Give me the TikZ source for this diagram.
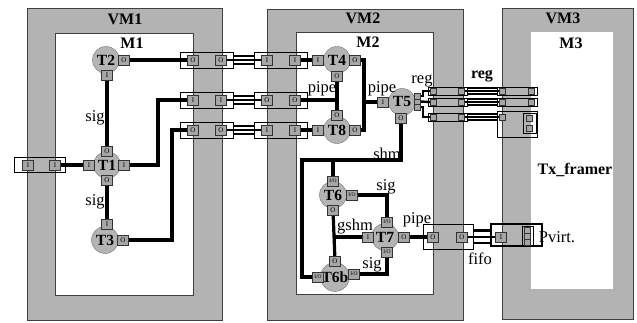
\documentclass[tikz,border=0pt]{standalone}
\usepackage{fontspec}
\setmainfont{Liberation Serif}
\pgfdeclarelayer{bg}
\pgfdeclarelayer{wires}
\pgfsetlayers{bg,wires,main}
\definecolor{vmgray}{HTML}{B3B3B3}
\definecolor{taskgray}{HTML}{B4B4B4}
\definecolor{portgray}{HTML}{A6A6A6}
\definecolor{edgegray}{HTML}{404040}
\tikzset{
 vmbox/.style={draw=edgegray, fill=vmgray, line width=0.9pt},
 mbox/.style={draw=edgegray, fill=white, line width=0.9pt},
 task/.style={circle, draw=black!55, fill=taskgray, minimum size=27pt, inner sep=0pt, font=\bfseries\fontsize{15.5}{15.5}\selectfont},
 port/.style={rectangle, draw=black!80, fill=portgray, minimum width=11pt, minimum height=10pt, inner sep=0pt, font=\fontsize{7}{7}\selectfont},
 ioport/.style={port, font=\fontsize{5.5}{5.5}\selectfont},
 sport/.style={rectangle, draw=black!80, fill=portgray, minimum size=5.5pt, inner sep=0pt},
 cbox/.style={rectangle, draw=black, line width=0.7pt, minimum width=53pt, minimum height=16pt, inner sep=0pt},
 rbox/.style={rectangle, draw=black, line width=0.7pt, minimum width=40pt, minimum height=8pt, inner sep=0pt},
 wire/.style={line width=3.2pt, black},
 chan/.style={line width=2.2pt, black},
 lbl/.style={font=\fontsize{16.5}{16.5}\selectfont, inner sep=0pt},
 ttl/.style={font=\bfseries\fontsize{16}{16}\selectfont, inner sep=0pt},
}
\begin{document}
\begin{tikzpicture}[x=1pt,y=-1pt]
\useasboundingbox (0,0) rectangle (637,323);
\begin{pgfonlayer}{bg}
\fill[white] (0,0) rectangle (637,323);
\draw[vmbox] (27,8) rectangle (222,320);
\draw[mbox] (55,33) rectangle (193,295);
\draw[vmbox] (267,9) rectangle (463,320);
\draw[mbox] (296,32) rectangle (433,294);
\draw[vmbox] (502,8) rectangle (633,319);
\draw[mbox, draw=none] (531,32) rectangle (613,289);
\end{pgfonlayer}

% titles
\node[ttl] (vm1) at (125,19) {VM1};
\node[ttl] (m1) at (132,43) {M1};
\node[ttl] (vm2) at (363,18) {VM2};
\node[ttl] (m2) at (368,42) {M2};
\node[ttl] (vm3) at (563,18) {VM3};
\node[ttl] (m3) at (571,43) {M3};
\node[ttl] (txf) at (575,170) {Tx\_framer};
\node[lbl] (pvl) at (557,237) {Pvirt.};

% connector boxes
\node[cbox, minimum width=51pt, minimum height=15pt] (lb) at (39.5,165) {};
\node[port] (lb1) at (28,165) {I};
\node[port] (lb2) at (55,165) {I};

\node[cbox] (r1a) at (206.5,60) {};
\node[cbox] (r1b) at (281,60) {};
\node[cbox] (r2a) at (206.5,100) {};
\node[cbox] (r2b) at (281,100) {};
\node[cbox] (r3a) at (206.5,130) {};
\node[cbox] (r3b) at (281,130) {};
\node[port] (p1a1) at (193,60) {O};
\node[port] (p1a2) at (221,60) {O};
\node[port] (p1b1) at (267,60) {I};
\node[port] (p1b2) at (295,60) {I};
\node[port] (p2a1) at (193,100) {I};
\node[port] (p2a2) at (221,100) {I};
\node[port] (p2b1) at (267,100) {O};
\node[port] (p2b2) at (295,100) {O};
\node[port] (p3a1) at (193,130) {O};
\node[port] (p3a2) at (221,130) {O};
\node[port] (p3b1) at (267,130) {I};
\node[port] (p3b2) at (295,130) {I};

% reg boxes
\node[rbox, minimum width=39pt] (g1a) at (447.5,91) {};
\node[rbox, minimum width=39pt] (g2a) at (447.5,102) {};
\node[rbox, minimum width=39pt] (g3a) at (447.5,117) {};
\node[rbox] (g1b) at (517,91) {};
\node[rbox] (g2b) at (517,102) {};
\node[rbox, minimum height=26pt] (g3b) at (517,124) {};
\node[sport] (q1a1) at (433,91) {};
\node[sport] (q1a2) at (461,91) {};
\node[sport] (q2a1) at (433,102) {};
\node[sport] (q2a2) at (461,102) {};
\node[sport] (q3a1) at (433,117) {};
\node[sport] (q3a2) at (461,117) {};
\node[sport] (q1b1) at (502,91) {};
\node[sport] (q1b2) at (531,91) {};
\node[sport] (q2b1) at (502,102) {};
\node[sport] (q2b2) at (531,102) {};
\node[sport] (q3b1) at (502,117) {};
\node[rectangle, draw=black, line width=0.9pt, minimum width=13pt, minimum height=20pt, inner sep=0pt] (g3in) at (529.5,123) {};
\node[sport, minimum size=6pt] (q3b2) at (529.5,118) {};
\node[sport, minimum size=6pt] (q3b3) at (529.5,128) {};

% fifo and Pvirt boxes
\node[cbox, minimum width=50pt, minimum height=25pt] (ff) at (448,236.5) {};
\node[port] (ff1) at (433,237) {O};
\node[port] (ff2) at (462,237) {O};
\node[rectangle, draw=black, line width=1.3pt, minimum width=51pt, minimum height=22pt, inner sep=0pt] (pv) at (516.5,235) {};
\node[port] (pvi) at (501,237) {I};
\node[rectangle, draw=black, line width=0.9pt, minimum width=11pt, minimum height=19pt, inner sep=0pt] (pvin) at (527.5,236) {};
\node[sport, minimum size=6pt] (pv1) at (527.5,230) {};
\node[sport, minimum size=6pt] (pv2) at (527.5,236) {};
\node[sport, minimum size=6pt] (pv3) at (527.5,242) {};

% tasks VM1
\node[task] (t2) at (106,60) {T2};
\node[port] (t2o) at (124,60) {O};
\node[port] (t2i) at (107,75) {I};
\node[task] (t1) at (107,165) {T1};
\node[port] (t1t) at (107,151) {O};
\node[port] (t1b) at (107,180) {O};
\node[port] (t1l) at (89,165) {I};
\node[port] (t1r) at (124,165) {I};
\node[task] (t3) at (105,240) {T3};
\node[port] (t3t) at (107,224) {I};
\node[port] (t3r) at (123,240) {O};

% tasks VM2
\node[task] (t4) at (337,60) {T4};
\node[port] (t4l) at (318,60) {I};
\node[port] (t4r) at (355,60) {O};
\node[port] (t4b) at (337,76) {O};
\node[task] (t8) at (337,130) {T8};
\node[port] (t8t) at (337,115) {O};
\node[port] (t8l) at (318,130) {I};
\node[port] (t8r) at (355,130) {O};
\node[task] (t5) at (402,102) {T5};
\node[port] (t5l) at (383,102) {I};
\node[port] (t5b) at (401,118) {O};
\node[sport] (t5r1) at (417,96) {};
\node[sport] (t5r2) at (417,101.5) {};
\node[sport] (t5r3) at (417,107) {};
\node[task] (t6) at (333,195) {T6};
\node[ioport] (t6t) at (333,181) {I/O};
\node[ioport] (t6r) at (352,195) {I/O};
\node[port] (t6b) at (333,210) {O};
\node[task] (t7) at (385,237) {T7};
\node[ioport] (t7t) at (387,222) {I/O};
\node[port] (t7l) at (368,237) {I};
\node[port] (t7r) at (404,237) {O};
\node[ioport] (t7b) at (387,252) {I/O};
\node[task] (t6p) at (335,277) {T6b};
\node[port] (t6pt) at (335,261) {O};
\node[ioport] (t6pl) at (318,277) {I/O};
\node[ioport] (t6pr) at (354,274) {I/O};

% labels
\node[lbl] (s1) at (95,118) {sig};
\node[lbl] (s2) at (95,202) {sig};
\node[lbl] (pp1) at (322,89) {pipe};
\node[lbl] (pp2) at (382,89) {pipe};
\node[lbl] (rg1) at (422,81) {reg};
\node[ttl] (rg2) at (482,76) {reg};
\node[lbl] (shm) at (387,154) {shm};
\node[lbl] (s3) at (386,187) {sig};
\node[lbl] (gs) at (355,227) {gshm};
\node[lbl] (s4) at (372,265) {sig};
\node[lbl] (pp3) at (417,220) {pipe};
\node[lbl] (ffl) at (480,259) {fifo};

\begin{pgfonlayer}{wires}
% VM1
\draw[wire] (lb2) -- (t1l);
\draw[wire] (t2o) -- (p1a1);
\draw[wire] (t1r.east) -- (158,165) |- (p2a1.west);
\draw[wire] (t3r.east) -- (172,240) |- (p3a1.west);
\draw[wire] (t2i) -- (t1t);
\draw[wire] (t1b) -- (t3t);
% channels VM1 -> VM2
\foreach \r in {1,2,3}{
 \draw[chan] (p\r a2) -- (p\r b1);
 \draw[chan] ([yshift=-4pt]r\r a.east) -- ([yshift=-4pt]r\r b.west);
 \draw[chan] ([yshift=4pt]r\r a.east) -- ([yshift=4pt]r\r b.west);
}
% VM2
\draw[wire] (p1b2) -- (t4l);
\draw[wire] (p2b2.east) -- (337,100);
\draw[wire] (t4b) -- (t8t);
\draw[wire] (p3b2) -- (t8l);
\draw[wire] (t4r.east) -- (364,60) -- (364,130) -- (t8r.east);
\draw[wire] (364,102) -- (t5l);
\draw[wire] (t5b.south) -- (401,160) -- (302,160) -- (302,277) -- (t6pl.west);
\draw[wire] (333,160) -- (t6t);
\draw[wire] (t6r.east) -| (t7t.north);
\draw[wire] (t6b) -- (t6pt);
\draw[wire] (333,237) -- (t7l);
\draw[wire] (t7b.south) |- (t6pr.east);
\draw[wire] (t7r) -- (ff1);
% T5 to reg
\draw[wire, line width=2.4pt] (t5r1.east) -- (423,96) |- (q1a1.west);
\draw[wire, line width=2.4pt] (t5r2.east) -- (q2a1.west);
\draw[wire, line width=2.4pt] (t5r3.east) -- (423,107) |- (q3a1.west);
\foreach \r in {1,2,3}{
 \draw[chan, line width=1.6pt] (q\r a2) -- (q\r b1);
 \draw[chan, line width=1.6pt] ([yshift=-3pt]g\r a.east) -- ([yshift=-3pt]g\r a.east -| g\r b.west);
 \draw[chan, line width=1.6pt] ([yshift=3pt]g\r a.east) -- ([yshift=3pt]g\r a.east -| g\r b.west);
}
% fifo to Pvirt
\draw[chan, line width=2.6pt] (ff2) -- (pvi);
\draw[chan, line width=2.6pt] (ff.east |- 0,230.5) -- (pv.west |- 0,230.5);
\draw[chan, line width=2.6pt] (ff.east |- 0,243) -- (pv.west |- 0,243);
\end{pgfonlayer}
\end{tikzpicture}
\end{document}
